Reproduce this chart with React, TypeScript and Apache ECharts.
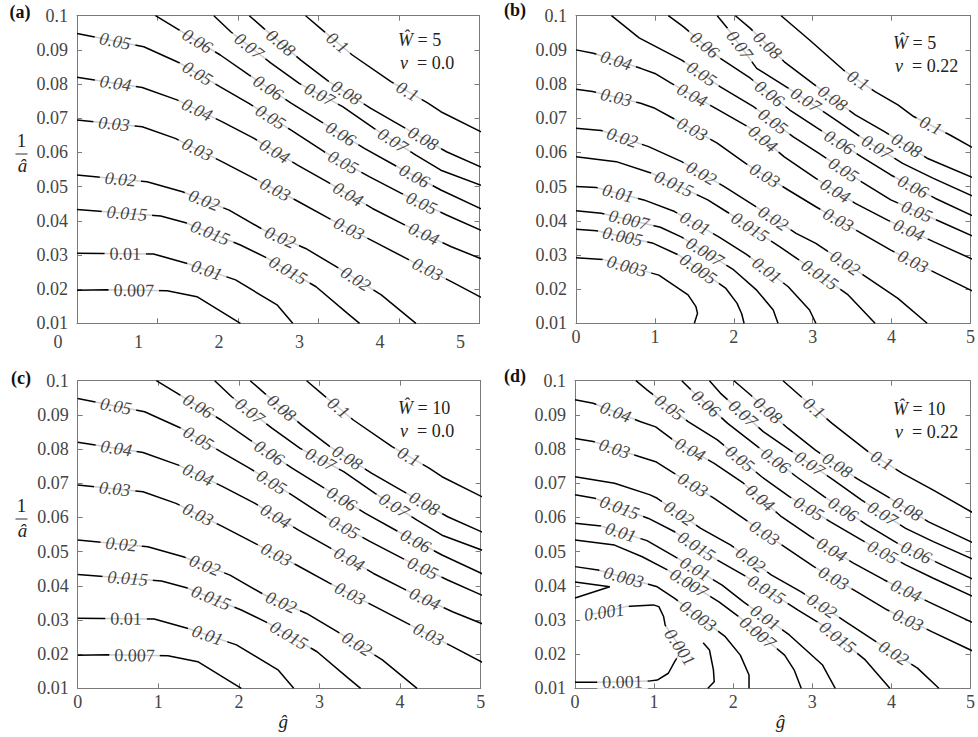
import React, { useEffect, useRef } from 'react';
import * as echarts from 'echarts';

// ---------------- data ----------------
const xRange = [0, 5];
const yRange = [0.01, 0.1];
const wValues = ['5', '5', '10', '10'];
const nuValues = ['0.0', '0.22', '0.0', '0.22'];
const panelTags = ['(a)', '(b)', '(c)', '(d)'];

// Panel (a): W = 5, v = 0.0
const levelsA = ['0.007', '0.01', '0.015', '0.02', '0.03', '0.04', '0.05', '0.06', '0.07', '0.08', '0.1'];
const linesA = [
  [[0, 0.0197], [0.37, 0.0198], [1.12, 0.0195], [1.49, 0.0178], [2.03, 0.01]],
  [[0, 0.0305], [0.95, 0.0303], [1.37, 0.0275], [1.97, 0.0227], [2.49, 0.0153], [2.68, 0.01]],
  [[0, 0.0433], [1.04, 0.0414], [1.35, 0.0394], [2.03, 0.0329], [2.37, 0.029], [2.97, 0.0207], [3.36, 0.0129], [3.51, 0.01]],
  [[0, 0.0534], [0.87, 0.0514], [1.31, 0.0485], [1.89, 0.0431], [2.32, 0.0373], [2.84, 0.0319], [3.22, 0.0266], [3.78, 0.0183], [4.21, 0.01]],
  [[0, 0.0695], [0.81, 0.0675], [1.22, 0.0641], [1.8, 0.0573], [2.2, 0.0524], [2.72, 0.046], [3.13, 0.0407], [3.69, 0.0339], [4.09, 0.029], [4.65, 0.0222], [5.02, 0.0176]],
  [[0, 0.082], [0.81, 0.079], [1.25, 0.0753], [1.8, 0.069], [2.2, 0.0641], [2.74, 0.0563], [3.11, 0.0514], [3.67, 0.0436], [4.07, 0.0388], [4.65, 0.0324], [5.02, 0.0289]],
  [[0, 0.0948], [0.83, 0.0909], [1.29, 0.086], [1.78, 0.0792], [2.14, 0.0743], [2.66, 0.0665], [3.07, 0.0602], [3.63, 0.0529], [4.03, 0.048], [4.59, 0.0417], [5.02, 0.0372]],
  [[0.975, 0.1], [1.2, 0.0968], [1.78, 0.0885], [2.14, 0.0826], [2.66, 0.0744], [3.03, 0.069], [3.57, 0.0612], [3.98, 0.0558], [4.52, 0.049], [5.02, 0.0435]],
  [[1.7, 0.1], [1.91, 0.0953], [2.41, 0.0861], [2.76, 0.0802], [3.3, 0.0734], [3.69, 0.067], [4.21, 0.0592], [4.52, 0.0548], [5.02, 0.0504]],
  [[2.14, 0.1], [2.32, 0.0963], [2.78, 0.087], [3.13, 0.0807], [3.65, 0.0729], [4.05, 0.0675], [4.59, 0.0602], [5.02, 0.0557]],
  [[2.84, 0.1], [3.05, 0.0958], [3.42, 0.0885], [3.9, 0.0807], [4.36, 0.0744], [4.52, 0.0719], [5.02, 0.066]],
];
const labelsA = [
  [[0.705, 0.0197]],
  [[0.6, 0.0305], [1.62, 0.0261]],
  [[0.62, 0.0422], [1.66, 0.0368], [2.61, 0.0251]],
  [[0.54, 0.0524], [1.58, 0.0461], [2.53, 0.0355], [3.47, 0.0232]],
  [[0.46, 0.0685], [1.49, 0.0607], [2.47, 0.0495], [3.38, 0.0378], [4.36, 0.0261]],
  [[0.48, 0.0807], [1.49, 0.0724], [2.45, 0.0602], [3.36, 0.0475], [4.32, 0.0368]],
  [[0.48, 0.0934], [1.49, 0.0828], [2.41, 0.0705], [3.3, 0.0568], [4.3, 0.0461]],
  [[1.49, 0.0924], [2.37, 0.0787], [3.28, 0.0656], [4.21, 0.0539]],
  [[2.14, 0.0912], [3.01, 0.0768], [3.94, 0.0641]],
  [[2.51, 0.0915], [3.34, 0.0773], [4.3, 0.0641]],
  [[3.24, 0.0922], [4.11, 0.078]],
];

// Panel (b): W = 5, v = 0.22
const levelsB = ['0.003', '0.005', '0.007', '0.01', '0.015', '0.02', '0.03', '0.04', '0.05', '0.06', '0.07', '0.08', '0.1'];
const linesB = [
  [[0, 0.0292], [0.34, 0.0287], [1.05, 0.0241], [1.42, 0.0183], [1.52, 0.0149], [1.54, 0.0129], [1.5, 0.01]],
  [[0, 0.0375], [0.26, 0.0371], [0.98, 0.0334], [1.3, 0.03], [1.9, 0.0202], [2.04, 0.0159], [2.1, 0.0128], [2.13, 0.01]],
  [[0, 0.0429], [0.32, 0.0422], [1.07, 0.0381], [1.34, 0.0352], [2.0, 0.0256], [2.29, 0.0197], [2.5, 0.0139], [2.56, 0.01]],
  [[0, 0.05], [0.26, 0.0497], [0.86, 0.0461], [1.25, 0.0427], [1.81, 0.0353], [2.17, 0.03], [2.69, 0.0207], [2.96, 0.0139], [3.04, 0.01]],
  [[0, 0.0587], [0.51, 0.0573], [0.96, 0.0539], [1.67, 0.0461], [1.94, 0.0422], [2.58, 0.0324], [2.83, 0.0285], [3.45, 0.0183], [3.79, 0.01]],
  [[0, 0.0671], [0.32, 0.0664], [0.92, 0.0617], [1.34, 0.0573], [1.88, 0.05], [2.25, 0.0446], [2.79, 0.0363], [3.04, 0.0334], [3.7, 0.0232], [4.08, 0.0173], [4.45, 0.01]],
  [[0, 0.0785], [0.21, 0.0778], [0.82, 0.0744], [1.0, 0.0729], [1.23, 0.07], [1.79, 0.0627], [2.15, 0.0568], [2.69, 0.049], [3.04, 0.0441], [3.62, 0.0363], [3.99, 0.0314], [4.57, 0.0246], [5.02, 0.0195]],
  [[0, 0.09], [0.22, 0.089], [0.82, 0.0846], [1.0, 0.0831], [1.21, 0.0802], [1.81, 0.0724], [2.21, 0.0671], [2.64, 0.0587], [3.04, 0.0524], [3.54, 0.0451], [3.95, 0.0402], [4.53, 0.0339], [5.02, 0.0288]],
  [[0.45, 0.1], [0.8, 0.0935], [1.34, 0.087], [1.83, 0.0792], [2.25, 0.0734], [2.75, 0.0646], [3.08, 0.0597], [3.62, 0.0514], [3.99, 0.0461], [4.62, 0.0397], [5.02, 0.0356]],
  [[1.17, 0.1], [1.36, 0.0968], [1.83, 0.0875], [2.21, 0.0817], [2.71, 0.0724], [3.06, 0.0671], [3.62, 0.0587], [3.99, 0.0534], [4.55, 0.0466], [5.02, 0.0415]],
  [[1.79, 0.1], [1.92, 0.0963], [2.29, 0.0846], [2.69, 0.0788], [3.23, 0.0705], [3.6, 0.0646], [4.14, 0.0568], [4.53, 0.0524], [5.02, 0.0473]],
  [[2.02, 0.1], [2.21, 0.0963], [2.64, 0.0865], [3.0, 0.0802], [3.54, 0.071], [3.91, 0.0661], [4.45, 0.0583], [5.02, 0.0527]],
  [[2.6, 0.1], [2.96, 0.0929], [3.39, 0.0841], [3.79, 0.0778], [4.08, 0.0739], [4.28, 0.0705], [4.74, 0.0651], [5.02, 0.0615]],
];
const labelsB = [
  [[0.65, 0.0271]],
  [[0.59, 0.0353], [1.57, 0.0266]],
  [[0.67, 0.0402], [1.65, 0.0315]],
  [[0.53, 0.048], [1.52, 0.0397], [2.42, 0.0256]],
  [[1.25, 0.0513], [2.21, 0.0383], [3.1, 0.0246]],
  [[0.59, 0.0646], [1.59, 0.0539], [2.5, 0.0407], [3.41, 0.0276]],
  [[0.51, 0.0763], [1.48, 0.0671], [2.39, 0.0531], [3.31, 0.0397], [4.26, 0.0276]],
  [[0.51, 0.087], [1.46, 0.0763], [2.35, 0.0635], [3.29, 0.049], [4.22, 0.0373]],
  [[1.59, 0.0829], [2.48, 0.0685], [3.39, 0.0549], [4.33, 0.0432]],
  [[1.61, 0.0909], [2.42, 0.0763], [3.33, 0.0627], [4.26, 0.0495]],
  [[2.06, 0.0912], [2.91, 0.0753], [3.83, 0.0622]],
  [[2.42, 0.0912], [3.25, 0.0758], [4.18, 0.0617]],
  [[3.58, 0.0812], [4.49, 0.0675]],
];

// Panel (c): W = 10, v = 0.0 (indistinguishable from (a) at this resolution)
const levelsC = levelsA;
const linesC = linesA;
const labelsC = labelsA;

// Panel (d): W = 10, v = 0.22 (null separates pieces of the same level)
const levelsD = ['0.001', '0.003', '0.007', '0.01', '0.015', '0.02', '0.03', '0.04', '0.05', '0.06', '0.07', '0.08', '0.1'];
const linesD = [
  [[0, 0.0118], [0.25, 0.0118], [0.6, 0.0119], [0.93, 0.0121], [1.04, 0.0124], [1.18, 0.0144], [1.26, 0.0178], [1.35, 0.0212], [1.14, 0.0285], [1.12, 0.031], [1.06, 0.0339], [0.99, 0.0344], [0.64, 0.0339], [0.37, 0.0323], [0.2, 0.0317],
    null, [0, 0.0411], [0.44, 0.0397], [0, 0.0364],
    null, [1.62, 0.0233], [1.7, 0.0212], [1.75, 0.0154], [1.76, 0.0119], [1.68, 0.01]],
  [[0, 0.0456], [0.29, 0.0446], [1.04, 0.0397], [1.26, 0.0363], [1.9, 0.0251], [2.09, 0.0197], [2.2, 0.0139], [2.2, 0.01]],
  [[0, 0.0534], [0.5, 0.0519], [0.85, 0.0485], [1.18, 0.0445], [1.82, 0.0353], [2.07, 0.031], [2.65, 0.0197], [2.77, 0.0154], [2.86, 0.01]],
  [[0, 0.0583], [0.33, 0.0575], [0.91, 0.0532], [1.3, 0.048], [1.86, 0.0402], [2.13, 0.0353], [2.71, 0.0256], [3.13, 0.0168], [3.29, 0.01]],
  [[0, 0.0666], [0.25, 0.0656], [0.93, 0.0597], [1.26, 0.0558], [1.8, 0.0475], [2.15, 0.0429], [2.82, 0.0329], [3.13, 0.0285], [3.67, 0.0183], [3.98, 0.01]],
  [[0, 0.0719], [0.5, 0.07], [0.95, 0.0666], [1.04, 0.0656], [1.59, 0.0568], [1.97, 0.0519], [2.48, 0.0432], [2.86, 0.0382], [3.42, 0.0295], [3.81, 0.0236], [4.33, 0.0159], [4.6, 0.01]],
  [[0, 0.0831], [0.23, 0.0822], [0.81, 0.0778], [1.02, 0.0763], [1.22, 0.0734], [1.76, 0.0656], [2.13, 0.0597], [2.65, 0.0514], [3.02, 0.0456], [3.56, 0.0383], [3.95, 0.0329], [4.51, 0.0266], [5.02, 0.021]],
  [[0, 0.0944], [0.23, 0.0934], [0.83, 0.088], [1.02, 0.0865], [1.24, 0.0827], [1.76, 0.0758], [2.13, 0.07], [2.61, 0.0602], [2.98, 0.0544], [3.52, 0.0466], [3.91, 0.0417], [4.47, 0.0353], [5.02, 0.0293]],
  [[0.77, 0.1], [0.91, 0.0973], [1.43, 0.088], [1.8, 0.0827], [2.36, 0.0719], [2.71, 0.0661], [3.23, 0.0587], [3.62, 0.0534], [4.18, 0.0461], [4.53, 0.0422], [5.02, 0.037]],
  [[1.35, 0.1], [1.49, 0.0968], [1.93, 0.0875], [2.28, 0.0812], [2.8, 0.0719], [3.15, 0.0661], [3.69, 0.0578], [4.08, 0.0524], [4.64, 0.0461], [5.02, 0.042]],
  [[1.7, 0.1], [1.84, 0.0963], [2.38, 0.0851], [2.75, 0.0792], [3.27, 0.0709], [3.62, 0.0651], [4.18, 0.0568], [4.53, 0.0529], [5.02, 0.0479]],
  [[2.01, 0.1], [2.22, 0.0958], [2.69, 0.0861], [3.04, 0.0797], [3.56, 0.0714], [3.95, 0.0661], [4.47, 0.0587], [5.02, 0.0527]],
  [[2.63, 0.1], [2.86, 0.0953], [3.25, 0.0875], [3.71, 0.0792], [4.14, 0.0729], [4.53, 0.068], [5.02, 0.0615]],
];
const labelsD = [
  [[0.6, 0.0119], [1.37, 0.0227], [0.37, 0.032]],
  [[0.62, 0.0429], [1.55, 0.031]],
  [[1.45, 0.0412], [2.3, 0.0261]],
  [[0.58, 0.0558], [1.51, 0.0446], [2.4, 0.0305]],
  [[0.56, 0.0627], [1.53, 0.0514], [2.42, 0.0388], [3.31, 0.0246]],
  [[1.3, 0.0607], [2.2, 0.047], [3.13, 0.0344], [4.04, 0.0207]],
  [[0.5, 0.0802], [1.49, 0.0695], [2.38, 0.0549], [3.27, 0.0422], [4.2, 0.0295]],
  [[0.5, 0.09], [1.43, 0.0788], [2.32, 0.0652], [3.23, 0.05], [4.18, 0.0383]],
  [[1.2, 0.0924], [2.07, 0.0768], [2.96, 0.0627], [3.87, 0.049]],
  [[1.64, 0.0929], [2.51, 0.0758], [3.4, 0.0627], [4.31, 0.0495]],
  [[2.13, 0.0906], [2.94, 0.0748], [3.89, 0.0612]],
  [[2.42, 0.0909], [3.29, 0.0744], [4.18, 0.0617]],
  [[3.02, 0.0919], [3.87, 0.0763]],
];

// ---------------- layout & style ----------------
const FONT = 'Liberation Serif';
const AXIS_COLOR = '#7a7a7a';
const TICK_LABEL_COLOR = '#454545';

const PANELS = [
  { levels: levelsA, lines: linesA, labels: labelsA },
  { levels: levelsB, lines: linesB, labels: labelsB },
  { levels: levelsC, lines: linesC, labels: labelsC },
  { levels: levelsD, lines: linesD, labels: labelsD },
];
const LAYOUT = [
  { left: 77, top: 15.7, width: 402.5, height: 307.6, tag: [20, 12], note: [398, 40], yName: true, xName: false, shift: true },
  { left: 576, top: 15.7, width: 401.3, height: 307.6, tag: [515, 10], note: [893, 43], yName: false, xName: false, shift: false },
  { left: 77.7, top: 380.7, width: 403, height: 307.6, tag: [21, 378], note: [398, 408], yName: true, xName: true, shift: false },
  { left: 575, top: 380.7, width: 402.3, height: 307.6, tag: [515, 376], note: [893, 409], yName: false, xName: true, shift: false },
];

function splitPieces(arr: any[]) {
  const out: number[][][] = [];
  let cur: number[][] = [];
  for (const p of arr) {
    if (p === null) { if (cur.length) out.push(cur); cur = []; }
    else cur.push(p);
  }
  if (cur.length) out.push(cur);
  return out;
}

function placeLabel(pt: number[], pieces: number[][][], sx: number, sy: number) {
  let best: any = null;
  const px = pt[0] * sx, py = pt[1] * sy;
  for (const piece of pieces) {
    for (let i = 0; i < piece.length - 1; i++) {
      const ax = piece[i][0] * sx, ay = piece[i][1] * sy;
      const bx = piece[i + 1][0] * sx, by = piece[i + 1][1] * sy;
      const dx = bx - ax, dy = by - ay;
      const L = dx * dx + dy * dy || 1;
      let t = ((px - ax) * dx + (py - ay) * dy) / L;
      t = Math.max(0, Math.min(1, t));
      const cx = ax + t * dx, cy = ay + t * dy;
      const d = (px - cx) ** 2 + (py - cy) ** 2;
      if (!best || d < best.d) best = { d, cx, cy, ang: (Math.atan2(dy, dx) * 180) / Math.PI };
    }
  }
  let ang = best.ang;
  if (ang > 90) ang -= 180;
  if (ang < -90) ang += 180;
  return { value: [best.cx / sx, best.cy / sy], rotate: ang };
}

function buildOption() {
  const grid: any[] = [], xAxis: any[] = [], yAxis: any[] = [], series: any[] = [], graphic: any[] = [];
  PANELS.forEach((p, i) => {
    const L = LAYOUT[i];
    grid.push({ left: L.left, top: L.top, width: L.width, height: L.height });
    const axisLine = { show: true, onZero: false, lineStyle: { color: AXIS_COLOR, width: 1 } };
    const axisTick = { show: true, inside: true, length: 5, lineStyle: { color: AXIS_COLOR, width: 1 } };
    const xBase = { type: 'value', gridIndex: i, min: xRange[0], max: xRange[1], interval: 1, axisLine, axisTick, splitLine: { show: false } };
    const yBase = { type: 'value', gridIndex: i, min: yRange[0], max: yRange[1], interval: 0.01, axisLine, axisTick, splitLine: { show: false } };
    xAxis.push({
      ...xBase, position: 'bottom',
      axisLabel: { show: true, margin: L.shift ? 12 : 7, lineHeight: 13, color: TICK_LABEL_COLOR, fontFamily: FONT, fontSize: 18, padding: L.shift ? [0, 38, 0, 0] : 0 },
    });
    xAxis.push({ ...xBase, position: 'top', axisLabel: { show: false } });
    yAxis.push({
      ...yBase, position: 'left',
      axisLabel: { show: true, margin: 9, lineHeight: 13, color: TICK_LABEL_COLOR, fontFamily: FONT, fontSize: 18, formatter: (v: number) => String(+v.toFixed(3)) },
    });
    yAxis.push({ ...yBase, position: 'right', axisLabel: { show: false } });

    const sx = L.width / (xRange[1] - xRange[0]);
    const sy = L.height / (yRange[1] - yRange[0]);
    const labelItems: any[] = [];
    p.levels.forEach((lvl, j) => {
      const pieces = splitPieces(p.lines[j]);
      pieces.forEach((piece) => {
        series.push({
          type: 'line', xAxisIndex: 2 * i, yAxisIndex: 2 * i, data: piece,
          showSymbol: false, symbol: 'none', smooth: false, silent: true, z: 2,
          lineStyle: { color: '#000', width: 1.5 },
          emphasis: { disabled: true },
        });
      });
      (p.labels[j] || []).forEach((pt) => {
        const pl = placeLabel(pt, pieces, sx, sy);
        labelItems.push({
          name: lvl, value: pl.value,
          label: { rotate: pl.rotate, fontStyle: Math.abs(pl.rotate) >= 3 ? 'italic' : 'normal' },
        });
      });
    });
    series.push({
      type: 'scatter', xAxisIndex: 2 * i, yAxisIndex: 2 * i, data: labelItems,
      symbolSize: 0, silent: true, z: 5, emphasis: { disabled: true },
      label: {
        show: true, position: 'inside', formatter: '{b}', color: '#111',
        fontFamily: FONT, fontSize: 18, backgroundColor: '#fff', padding: [0, 5],
      },
    });

    // panel tag
    graphic.push({
      type: 'text', x: L.tag[0], y: L.tag[1],
      style: { text: panelTags[i], fontFamily: FONT, fontSize: 18, fontWeight: 'bold', fill: '#111', align: 'center', verticalAlign: 'middle' },
    });
    // parameter notes
    graphic.push({
      type: 'text', x: L.note[0], y: L.note[1],
      style: {
        text: '{i|\u0174} = ' + wValues[i], fontFamily: FONT, fontSize: 18, fill: '#222', align: 'left', verticalAlign: 'middle',
        rich: { i: { fontStyle: 'italic', fontFamily: FONT, fontSize: 18, fill: '#222' } },
      },
    });
    graphic.push({
      type: 'text', x: L.note[0] + 2, y: L.note[1] + 23,
      style: {
        text: '{i|v}  = ' + nuValues[i], fontFamily: FONT, fontSize: 18, fill: '#222', align: 'left', verticalAlign: 'middle',
        rich: { i: { fontStyle: 'italic', fontFamily: FONT, fontSize: 18, fill: '#222' } },
      },
    });
    if (L.yName) {
      const cy = L.top + 124.3;
      graphic.push({ type: 'text', x: 21.5, y: cy, style: { text: '1', fontFamily: FONT, fontSize: 19, fill: '#222', align: 'center', verticalAlign: 'middle' } });
      graphic.push({ type: 'line', shape: { x1: 15.5, y1: cy + 14, x2: 27.5, y2: cy + 14 }, style: { stroke: '#333', lineWidth: 1 } });
      graphic.push({ type: 'text', x: 22.5, y: cy + 25, style: { text: '\u00e2', fontFamily: FONT, fontSize: 19, fontStyle: 'italic', fill: '#222', align: 'center', verticalAlign: 'middle' } });
    }
    if (L.xName) {
      graphic.push({
        type: 'text', x: L.left + 205.5, y: 721,
        style: { text: '\u011d', fontFamily: FONT, fontSize: 19, fontStyle: 'italic', fill: '#222', align: 'center', verticalAlign: 'middle' },
      });
    }
  });
  return { animation: false, backgroundColor: '#fff', textStyle: { fontFamily: FONT }, grid, xAxis, yAxis, series, graphic };
}

export default function App() {
  const ref = useRef<HTMLDivElement>(null);
  useEffect(() => {
    const chart = echarts.init(ref.current as HTMLDivElement, null, { renderer: 'svg' });
    chart.setOption(buildOption() as any);
    return () => chart.dispose();
  }, []);
  return <div ref={ref} style={{ position: 'absolute', left: 0, top: 0, width: 978, height: 737, background: '#fff' }} />;
}
